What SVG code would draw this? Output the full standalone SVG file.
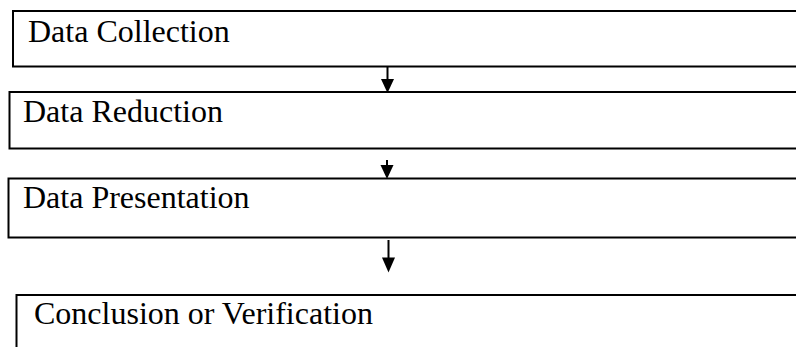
<svg xmlns="http://www.w3.org/2000/svg" width="796" height="347" viewBox="0 0 796 347">
<style>
.box{fill:#fff;stroke:#000;stroke-width:2}
.lbl{font-family:"Liberation Serif","Times New Roman",serif;font-size:32px;fill:#000}
.shaft{stroke:#000;stroke-width:2;fill:none}
.head{fill:#000}
</style>
<rect width="796" height="347" fill="#fff"/>
<g id="node-collection">
<rect class="box" x="13" y="11" width="800" height="55.5"/>
<text class="lbl" x="28" y="42">Data Collection</text>
</g>
<g id="node-reduction">
<rect class="box" x="9.5" y="92" width="800" height="56.5"/>
<text class="lbl" x="23" y="122">Data Reduction</text>
</g>
<g id="node-presentation">
<rect class="box" x="8.5" y="178.5" width="800" height="59"/>
<text class="lbl" x="23" y="208">Data Presentation</text>
</g>
<g id="node-conclusion">
<rect class="box" x="16.5" y="295" width="800" height="80"/>
<text class="lbl" x="34" y="324">Conclusion or Verification</text>
</g>
<g id="connectors">
<line class="shaft" x1="387.5" y1="67" x2="387.5" y2="80"/>
<polygon class="head" points="381,79 394,79 387.5,93"/>
<line class="shaft" x1="387" y1="160" x2="387" y2="166"/>
<polygon class="head" points="380.5,165 393.5,165 387,179"/>
<line class="shaft" x1="388.5" y1="240" x2="388.5" y2="259"/>
<polygon class="head" points="382,257.5 395,257.5 388.5,272.5"/>
</g>
</svg>
